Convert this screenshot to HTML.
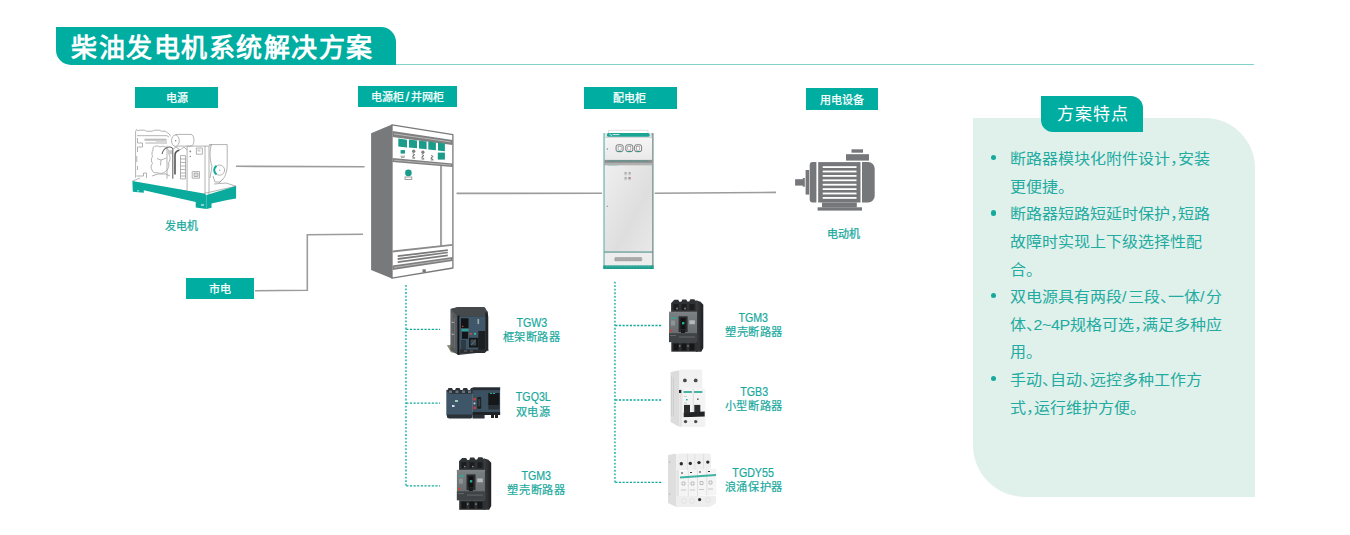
<!DOCTYPE html>
<html lang="zh-CN"><head><meta charset="utf-8">
<style>
html,body{margin:0;padding:0;background:#fff;}
body{width:1350px;height:535px;position:relative;overflow:hidden;font-family:"Liberation Sans",sans-serif;}
.a{position:absolute;}
.banner{left:56px;top:27px;width:340px;height:38px;background:#00ada1;border-radius:0 15px 0 15px;}
.banner span{position:absolute;left:15px;top:3.5px;font-size:26px;letter-spacing:1.5px;line-height:34px;font-weight:700;color:#fff;white-space:nowrap;}
.hline{left:396px;top:63.8px;width:858px;height:1.5px;background:#80d4ca;}
.lab{position:absolute;background:#00ada1;color:#fff;font-size:11px;-webkit-text-stroke:0.25px #fff;text-align:center;white-space:nowrap;}
.tl{position:absolute;color:#17a99d;font-size:11px;white-space:nowrap;-webkit-text-stroke:0.25px #17a99d;}
.pt{position:absolute;width:100px;text-align:center;color:#17a99d;font-size:12.4px;line-height:13px;white-space:nowrap;-webkit-text-stroke:0.2px #17a99d;}
.pt span{display:inline-block;transform:scaleX(0.86);}
.pc{position:absolute;width:100px;text-align:center;color:#17a99d;font-size:11.2px;letter-spacing:0.55px;line-height:13px;white-space:nowrap;-webkit-text-stroke:0.2px #17a99d;}
.panel{left:973px;top:118px;width:282px;height:379px;background:#e0f0eb;border-radius:0 50px 0 52px;}
.tab{left:1041px;top:96px;width:102px;height:36px;background:#00ada1;border-radius:0 12px 0 12px;color:#fff;font-size:18px;}
.tab span{position:absolute;left:15.5px;top:8px;line-height:22px;font-size:17px;letter-spacing:1.3px;white-space:nowrap;}
.ul{left:1009.5px;top:145.2px;width:260px;white-space:nowrap;color:#22aba0;font-size:16px;line-height:27.6px;}
.ln{position:relative;height:27.6px;}
.ln .t{display:inline-block;transform:scaleY(0.92);transform-origin:50% 50%;}
.ln.b:before{content:"";position:absolute;left:-19px;top:9.7px;width:5.5px;height:5.5px;border-radius:50%;background:#13a99c;}
.h{letter-spacing:-8px;}
.s{letter-spacing:1.3px;margin-left:0.4px;}
</style></head>
<body>
<div class="a banner"><span>柴油发电机系统解决方案</span></div>
<div class="a hline"></div>

<div class="lab" style="left:135px;top:86.5px;width:83px;height:21.5px;line-height:23.5px;">电源</div>
<div class="lab" style="left:358px;top:86px;width:99px;height:21px;line-height:23px;">电源柜<span style="font-size:12.5px;margin:0 1.6px;-webkit-text-stroke:0.35px #fff;">/</span>并网柜</div>
<div class="lab" style="left:584px;top:86.5px;width:93px;height:22.5px;line-height:22.5px;text-indent:-2px;">配电柜</div>
<div class="lab" style="left:806px;top:88px;width:72px;height:22px;line-height:24px;">用电设备</div>
<div class="lab" style="left:186px;top:278px;width:68px;height:21px;line-height:23.5px;">市电</div>

<div class="tl" style="left:165px;top:218.5px;line-height:14px;">发电机</div>
<div class="tl" style="left:827px;top:226.5px;line-height:14px;">电动机</div>

<!-- connection lines -->
<svg class="a" style="left:0;top:0" width="1350" height="535">
  <g stroke="#9c9c9c" stroke-width="1.6" fill="none">
    <path d="M236 166.3 L364.6 166.7"/>
    <path d="M255 290.8 L307.3 290.2 L307.3 234.8 L363 234.3"/>
    <path d="M456.5 193.4 L602 193.2"/>
    <path d="M654.6 193.2 L776 192.4"/>
  </g>
  <g stroke="#4fc3b7" stroke-width="2" fill="none" stroke-dasharray="1.8 1.75">
    <path d="M405.9 285 V486.5"/>
    <path d="M614.9 281.7 V483"/>
  </g>
  <g stroke="#13a898" stroke-width="1.3" fill="none" stroke-dasharray="2.2 1.45">
    <path d="M406.2 329.3 H440"/>
    <path d="M406.2 403.2 H440"/>
    <path d="M406.2 485.8 H440"/>
    <path d="M615.2 325.5 H662"/>
    <path d="M615.2 400 H662"/>
    <path d="M615.2 482.3 H662"/>
  </g>
</svg>


<!--CABGEN--><svg class="a" style="left:0;top:0" width="1350" height="535">
<g id="cab1">
<polygon points="371.1,133.3 392,124.4 392,278.5 371.1,270.1" fill="#78797b"/>
<polygon points="392.0,124.9 452.9,134.7 452.9,268.0 392.0,278.2" fill="#fff" stroke="#78797b" stroke-width="1.3" stroke-linejoin="round"/>
<polygon points="392.5,131.1 452.5,140.0 452.5,145.0 392.5,136.9" fill="#7f7f7f"/>
<polyline points="394.0,133.9 451.0,142.0" stroke="#d0d0d0" stroke-width="0.7" fill="none"/>
<polygon points="398.3,138.6 407.0,139.8 407.0,147.4 398.3,146.4" fill="#1b9c8a"/>
<polygon points="409.0,139.4 417.0,140.5 417.0,148.3 409.0,147.4" fill="#1b9c8a"/>
<polygon points="419.0,140.6 426.6,141.6 426.6,149.3 419.0,148.4" fill="#1b9c8a"/>
<polygon points="428.3,141.6 435.9,142.6 435.9,150.3 428.3,149.4" fill="#1b9c8a"/>
<polygon points="438.0,142.6 444.9,143.5 444.9,151.2 438.0,150.4" fill="#1b9c8a"/>
<rect x="437.8" y="152.6" width="7.1" height="7" fill="#1b9c8a"/>
<rect x="400.6" y="150.1" width="4.4" height="3.5" fill="#1b9c8a"/>
<path d="M400.5 156.2 h4.5 M401 157.6 h3.5" stroke="#888" stroke-width="0.8"/>
<circle cx="413.7" cy="151.3" r="1.3" fill="#8a8a8a" stroke="#666" stroke-width="0.7"/>
<path d="M412.6 153.7 l2.2 1 l-2.4 1.6 l2.2 1.4 M412.3 158.1 h2.8" stroke="#666" stroke-width="0.9" fill="none"/>
<circle cx="422.9" cy="152.2" r="1.3" fill="#8a8a8a" stroke="#666" stroke-width="0.7"/>
<path d="M421.8 154.6 l2.2 1 l-2.4 1.6 l2.2 1.4 M421.5 159.0 h2.8" stroke="#666" stroke-width="0.9" fill="none"/>
<path d="M431.0 155.5 l2.2 1 l-2.4 1.6 l2.2 1.4 M430.7 159.9 h2.8" stroke="#666" stroke-width="0.9" fill="none"/>
<polygon points="392.5,158.0 452.5,163.5 452.5,166.9 392.5,162.0" fill="#7f7f7f"/>
<polyline points="394.0,160.2 451.0,165.1" stroke="#d5d5d5" stroke-width="0.6" fill="none"/>
<path d="M440.5 165.8 V246.0 M441.6 165.9 V245.9" stroke="#888" stroke-width="0.8"/>
<circle cx="408.4" cy="172.9" r="3.3" fill="#1b9c8a"/>
<rect x="405" y="177" width="6.8" height="2.4" fill="none" stroke="#888" stroke-width="0.8"/>
<polygon points="392.5,250.5 452.5,244.0 452.5,245.8 392.5,252.5" fill="#8b8b8b"/>
<polygon points="397.7,255.2 447.8,249.2 447.8,250.9 397.7,257.1" fill="#7a7a7a"/>
<polygon points="397.7,258.0 447.8,251.7 447.8,253.3 397.7,259.9" fill="#7a7a7a"/>
<polygon points="397.7,261.2 447.8,254.6 447.8,256.2 397.7,263.1" fill="#7a7a7a"/>
<polygon points="392.5,265.5 452.5,257.1 452.5,261.1 392.5,270.1" fill="#7f7f7f"/>
<polyline points="394.0,267.5 451.0,259.2" stroke="#d5d5d5" stroke-width="0.6" fill="none"/>
<rect x="422.5" y="269.3" width="3.3" height="2.9" fill="#777"/>
</g>
<g id="gen" fill="none" stroke="#9a9a9a" stroke-width="0.75" stroke-linejoin="round">
<path d="M135.6 177.7 V131.5 l1 -2 l1.2 1.2 l1.5 -0.5 h5 l2 1 h6 l2 -1 h5 l2 1 h4 l2 1.5 l1.8 1.2 l1.6 2.5"/>
<path d="M137 135.7 h30 l2 1.5 M144.5 139.2 h22 M144.5 140.2 h22 M145.5 143 h21.5 M137.5 138 v5 h5 v4 h-5 v5"/>
<rect x="155.8" y="140.7" width="11.2" height="2.8" fill="#d8d8d8" stroke="none"/>
<path d="M136.8 156 v6 M137.5 166 v4 M136.5 176 h7 v-3 h3 v5 M152 176 l6 -2 l8 0 l4 2"/>
<path d="M153 147.5 c2 -2 5 -2 7 -0.5 c2 -1 5 -1 6.5 1 c2 1.5 3 4 2.5 6.5 c1.5 2.5 1.5 6 -0.5 8.5 c1 3 0 6 -2.5 8 c-2 2.5 -6 3 -8.5 1.5 c-2.5 1 -5 0 -5.5 -2.5 c-1.5 -2.5 -1 -5 0.5 -6.5 c-1.5 -2 -1.5 -5 0 -7 c-1 -2 -0.5 -5 0.5 -6.5 z" fill="#fff"/>
<path d="M161 160 l5.5 -2 M161 160 l-0.5 5.5 M161 160 l-4 -1.5"/>
<rect x="168.2" y="150.2" width="4.3" height="4" fill="#c9c9c9" stroke="none"/>
<path d="M162 154 c1 -4 3.5 -6.5 7 -7 c2.5 -0.3 3.8 1 3.8 3 V178.8" stroke="#6a6a6a" stroke-width="1.1"/>
<path d="M179.3 150.2 c-2.5 0.5 -4.3 2.5 -4.3 5 V174.4" stroke="#555" stroke-width="1.6"/>
<path d="M167 145.7 V178.8"/>
<path d="M175.4 134.4 H191 a3 5.85 0 0 1 0 11.7 H175.4" fill="#fff"/>
<ellipse cx="175.4" cy="140.7" rx="3.9" ry="5.6" fill="#fff"/>
<circle cx="175.6" cy="140.7" r="0.7" fill="#888" stroke="none"/>
<path d="M180.5 155.6 h5 v23.3 h-5 z M180.5 159 h5 M180.5 162.5 h5 M180.5 166 h5 M180.5 169.5 h5 M180.5 173 h5 M180.5 176 h5"/>
<path d="M172 150 l4 -3 l4 3 l4 -3 l3 3"/>
<path d="M187.1 146.1 H209 V195 M187.1 146.1 V190.6 M209 146.1 l2.5 -1.5 M205 146.1 V194"/>
<rect x="196.4" y="148" width="6" height="6.2"/><rect x="197.5" y="149.5" width="3" height="2" fill="#ccc" stroke="none"/><circle cx="190.3" cy="151.4" r="0.9" fill="#888" stroke="none"/><circle cx="190.3" cy="156.5" r="0.7" fill="#888" stroke="none"/>
<rect x="192.2" y="171.6" width="7.3" height="6.6" fill="#fff"/><rect x="194" y="173" width="4" height="3.6" fill="#ddd"/>
<path d="M209 144.6 H227.2 V164.3 C227.2 172 225 178 221.4 180.4 L219 183 M211.5 144.6 C209.5 150 209.5 160 212 166 L210 178"/>
<path d="M213 176 l2 6 l5 0 l3 -3"/>
<circle cx="219.5" cy="170.1" r="5.1" fill="#fff"/><circle cx="219.8" cy="170.1" r="0.6" fill="#888" stroke="none"/>
<path d="M216.5 165.8 A5.1 5.1 0 0 0 216.5 174.4" stroke="#0aab9c" stroke-width="2"/>
<path d="M132.4 181.1 L140 178 M203.9 193.5 L236 186.2 L226 183 L214 184 M150 186 l20 4 M180 190 l15 3"/>
</g>
<g fill="#0aab9c">
<polygon points="132.4,181.1 203.9,193.5 206.6,194.9 206.6,208.9 195.7,207.5 195.7,202 143.8,190.2 143.8,192.7 132.8,191.8"/>
<polygon points="206.6,194.9 236.1,186.1 236.1,198.4 227.3,200 211.5,203.5 211.5,207.8 206.6,208.9"/>
</g>
<path d="M138 190 v1.5 M201 205 h3" stroke="#fff" stroke-width="1"/>
</svg><!--/CABGEN-->
<!--CAB2--><svg class="a" style="left:0;top:0" width="1350" height="535">
<defs>
<linearGradient id="dg" x1="0" y1="0" x2="1" y2="1"><stop offset="0" stop-color="#efefef"/><stop offset="0.6" stop-color="#dedede"/><stop offset="1" stop-color="#e8e8e8"/></linearGradient>
<linearGradient id="ug" x1="0" y1="0" x2="0" y2="1"><stop offset="0" stop-color="#f6f6f6"/><stop offset="1" stop-color="#e9e9e9"/></linearGradient>
</defs>
<path d="M608.5 134 V130.3 H648 V134" fill="none" stroke="#c9c9c9" stroke-width="0.6"/>
<rect x="603.3" y="133" width="50.3" height="136" fill="#e8e8e8"/>
<rect x="603.3" y="133" width="1.6" height="136" fill="#8fc7c0"/>
<rect x="651.6" y="133" width="2" height="136" fill="#8fa3a1"/>
<rect x="605" y="136.8" width="47" height="23.1" fill="url(#ug)"/>
<rect x="605" y="136.8" width="47" height="1" fill="#cfcfcf"/>
<rect x="606.8" y="133" width="43" height="3.8" rx="1.9" fill="#1aa595"/>
<path d="M609.5 134.2 l2.5 1.3 M612.5 134.6 h7" stroke="#e8f5f3" stroke-width="0.9"/>
<rect x="616.1" y="144.8" width="7" height="6.8" rx="1.8" fill="#f4f4f4" stroke="#5a5a5a" stroke-width="0.8"/>
<rect x="618.1" y="146.3" width="3" height="3.8" fill="#fff" stroke="#777" stroke-width="0.5"/>
<path d="M617.6 151.6 h4" stroke="#1c9b8c" stroke-width="0.8"/>
<rect x="625.8" y="144.8" width="7" height="6.8" rx="1.8" fill="#f4f4f4" stroke="#5a5a5a" stroke-width="0.8"/>
<rect x="627.8" y="146.3" width="3" height="3.8" fill="#fff" stroke="#777" stroke-width="0.5"/>
<path d="M627.3 151.6 h4" stroke="#1c9b8c" stroke-width="0.8"/>
<rect x="634.6" y="144.8" width="7" height="6.8" rx="1.8" fill="#f4f4f4" stroke="#5a5a5a" stroke-width="0.8"/>
<rect x="636.6" y="146.3" width="3" height="3.8" fill="#fff" stroke="#777" stroke-width="0.5"/>
<path d="M636.1 151.6 h4" stroke="#1c9b8c" stroke-width="0.8"/>
<rect x="606.8" y="148.4" width="1.2" height="1.3" fill="#888"/>
<rect x="604.5" y="159.9" width="48" height="5.5" fill="#8f8f8f"/>
<rect x="604.5" y="162.8" width="48" height="2.6" fill="#b0b0b0"/>
<path d="M609 161 H649" stroke="#1a9b8b" stroke-width="0.8" stroke-dasharray="1 0.6"/>
<rect x="607.7" y="165.3" width="10" height="1.4" rx="0.7" fill="#2aa597"/>
<rect x="605" y="165.4" width="47" height="86.6" fill="url(#dg)"/>
<rect x="624.5" y="172.5" width="2.2" height="1" fill="#6a7a78"/>
<rect x="624.4" y="174.5" width="2.4" height="0.6" fill="#aaa"/>
<rect x="628.5" y="172.5" width="2.2" height="1" fill="#6a7a78"/>
<rect x="628.4" y="174.5" width="2.4" height="0.6" fill="#aaa"/>
<rect x="624.5" y="177.5" width="2.2" height="1" fill="#6a7a78"/>
<rect x="624.4" y="179.5" width="2.4" height="0.6" fill="#aaa"/>
<rect x="628.5" y="177.5" width="2.2" height="1" fill="#6a7a78"/>
<rect x="628.4" y="179.5" width="2.4" height="0.6" fill="#aaa"/>
<rect x="628.5" y="177.5" width="2.2" height="1" fill="#b07060"/>
<rect x="606.8" y="205.6" width="1.1" height="1.4" fill="#999"/>
<rect x="604.5" y="251.6" width="48" height="1.1" fill="#2c7e75"/>
<rect x="605" y="252.7" width="47" height="12.7" fill="#ededed"/>
<rect x="614.3" y="257" width="28" height="4.3" rx="1.5" fill="#b4b4b4"/>
<path d="M615 258.2 H641.5 M615 259.4 H641.5 M615 260.5 H641.5" stroke="#8e8e8e" stroke-width="0.5" stroke-dasharray="0.9 0.5"/>
<rect x="603.3" y="265.4" width="50.3" height="3.6" fill="#1f9f90"/>
<path d="M606 266.8 H651" stroke="#7bc9bf" stroke-width="0.6" stroke-dasharray="0.8 0.7"/>
</svg><!--/CAB2-->
<!--PROD--><svg class="a" style="left:0;top:0" width="1350" height="535">
<defs>
<linearGradient id="mccbR" x1="0" y1="0" x2="1" y2="0"><stop offset="0" stop-color="#3c3f42"/><stop offset="1" stop-color="#1d1f21"/></linearGradient>
<linearGradient id="mccbF" x1="0" y1="0" x2="0" y2="1"><stop offset="0" stop-color="#7a7f82"/><stop offset="1" stop-color="#62676a"/></linearGradient>
<g id="mccb">
 <rect x="671.3" y="303" width="26.4" height="9" fill="#3a3d40"/>
 <path d="M671.3 303 l3 -3.2 h4 l1 2 h2 l1 -2.3 h4 l1 2 h2 l1 -2.3 h4 l2 2.3 V312 H671.3 Z" fill="#2f3234"/>
 <rect x="673.5" y="304" width="5" height="6" fill="#1c1d1f"/><rect x="681.5" y="304" width="5" height="6" fill="#1c1d1f"/><rect x="689.5" y="304" width="5" height="6" fill="#1c1d1f"/>
 <circle cx="677" cy="308.5" r="0.9" fill="#888"/><circle cx="685" cy="308.5" r="0.9" fill="#888"/>
 <path d="M696 300.2 l4.5 1.5 l2.8 3 V348 l-2 3.7 H696 Z" fill="url(#mccbR)"/>
 <rect x="669" y="311.8" width="28" height="30.3" fill="url(#mccbF)"/>
 <rect x="669" y="311.8" width="28" height="1.8" fill="#7d8285"/>
 <rect x="678.6" y="316.3" width="9" height="15.7" fill="#2a2c2e"/>
 <rect x="680.5" y="318" width="5" height="11" fill="#121314"/>
 <rect x="682" y="322" width="2.4" height="2.4" fill="#2aa898"/>
 <rect x="681" y="329.5" width="4" height="3.5" fill="#1a1b1c"/>
 <rect x="689.3" y="320.3" width="5.6" height="3.9" fill="#b7babc"/>
 <rect x="670.7" y="317.4" width="5.6" height="1.5" fill="#3aa596"/>
 <rect x="671" y="320.5" width="4" height="5" fill="#8e9396"/>
 <rect x="670.2" y="329.8" width="2.2" height="2.2" fill="#c8453e"/>
 <rect x="669" y="333.2" width="28" height="8.9" fill="#3f4346"/>
 <path d="M670 335.5 h6 M679 337 h16" stroke="#777" stroke-width="0.7"/>
 <rect x="671.3" y="342.1" width="26.4" height="9.6" fill="#2e3133"/>
 <rect x="673.5" y="343.5" width="5" height="7" fill="#151617"/><rect x="681.5" y="343.5" width="5" height="7" fill="#151617"/><rect x="689.5" y="343.5" width="5" height="7" fill="#151617"/>
 <circle cx="679.8" cy="346" r="0.8" fill="#999"/><circle cx="688" cy="346" r="0.8" fill="#999"/>
</g>
</defs>
<use href="#mccb"/>
<use href="#mccb" transform="translate(-212.1 158.1)"/>
<g>
 <path d="M446.9 345.3 l9 -1 v9 l-5 -1 z" fill="#8d8c78"/>
 <path d="M478 349 l9 -2 l2 4 l-9 1 z" fill="#9a998a"/>
 <path d="M450.7 309 L458 306.9 H484 L486 309 V352 L458.3 355.1 L450.7 350 Z" fill="#3d4144"/>
 <path d="M450.7 309 L457.5 315.5 V354.5 L450.7 350 Z" fill="#565a5d"/>
 <path d="M452 313 v34 M454.5 318 v30" stroke="#777b7d" stroke-width="0.6"/>
 <path d="M451.5 322 l2.5 0.5 M451.5 334 l2.5 0.5" stroke="#bbb" stroke-width="0.9"/>
 <path d="M450.7 309 L458 306.9 H484 L488 312 V316 H457.5 Z" fill="#45494c"/>
 <rect x="457.5" y="315.5" width="2" height="39" fill="#141618"/>
 <path d="M485.3 312 C487.5 313 488.5 315 488.3 318 V350 l-3 2" fill="#222528"/>
 <rect x="459.5" y="316.6" width="25.8" height="36.3" fill="#40576a"/>
 <rect x="478.3" y="331" width="7" height="21" fill="#1c1f22"/>
 <rect x="461" y="318.3" width="7.5" height="9.7" fill="#111315"/>
 <rect x="461.5" y="329" width="7" height="2.3" fill="#2aa592"/>
 <rect x="462" y="331.8" width="6" height="7" fill="#121416"/>
 <rect x="462" y="325.8" width="1.4" height="1.2" fill="#d4453e"/>
 <rect x="469.5" y="333" width="2.4" height="1.6" fill="#d4453e"/>
 <rect x="474" y="332.8" width="2" height="2" fill="#2eb59e"/>
 <rect x="469" y="337.8" width="9.3" height="9.7" fill="#15181a"/>
 <path d="M470.5 339.5 h5.5 v6 h-5.5 z" fill="#3b4a53"/>
 <path d="M471 345 l5 -5" stroke="#6a7a80" stroke-width="0.6"/>
 <rect x="477.5" y="319" width="1.6" height="5" fill="#9aa"/>
 <rect x="461" y="340" width="5" height="10" fill="#2d3b44"/>
 <rect x="460" y="349.5" width="25" height="3.5" fill="#2a2e31"/>
 <path d="M464 351 h3 M470 351 h3" stroke="#777" stroke-width="0.8"/>
</g>
<g>
 <rect x="446.3" y="390" width="26.5" height="25.5" fill="#3f5668"/>
 <path d="M447 391 l1.5 -3 h3.5 l1 2 h2 l1 -2 h3.5 l1 2 h2 l1 -2 h3.5 l1 2 h2 l1 -2 h3 l1.5 3 v2.8 h-26 z" fill="#2b3136"/>
 <rect x="449" y="390.5" width="3" height="2.5" fill="#66727a"/><rect x="455.5" y="390.5" width="3" height="2.5" fill="#66727a"/><rect x="462" y="390.5" width="3" height="2.5" fill="#66727a"/><rect x="468" y="390.5" width="3" height="2.5" fill="#66727a"/>
 <path d="M447 414.5 h25.5 v3 l-1.5 1 h-22 l-2 -1 z" fill="#2b3136"/>
 <rect x="455" y="400" width="3" height="2" fill="#9cb"/><rect x="452" y="405" width="2.5" height="2" fill="#dde"/>
 <rect x="472.6" y="387.5" width="27.5" height="27.5" fill="#3b5060"/>
 <rect x="472.6" y="387.5" width="27.5" height="2.6" fill="#262c31"/>
 <rect x="488.3" y="393" width="11" height="12.5" fill="#151719"/>
 <rect x="488.3" y="405.5" width="11" height="4" fill="#2a3136"/>
 <rect x="490" y="393" width="2" height="0.9" fill="#2fc0a0"/><rect x="493" y="393" width="2" height="0.9" fill="#2fc0a0"/>
 <rect x="473.4" y="398" width="2.4" height="2.4" fill="#d03c3c"/>
 <rect x="473.4" y="406.7" width="2.4" height="2.4" fill="#d03c3c"/>
 <rect x="473.6" y="402.5" width="1.8" height="1.8" fill="#ccd"/>
 <rect x="477.3" y="396.9" width="3.9" height="11.8" rx="1" fill="#1b1e21"/>
 <rect x="478.2" y="399" width="2" height="7.5" fill="#3a4046"/>
 <rect x="472.6" y="412" width="27.5" height="3" fill="#1f2327"/>
 <rect x="472.6" y="415" width="12" height="3.5" fill="#2a3035"/>
 <rect x="491" y="415" width="3" height="3" fill="#222"/><rect x="495" y="415" width="3" height="3" fill="#222"/>
</g>
<g>
 <path d="M670.6 372 L679.5 370.2 V427 L670.6 422 Z" fill="#dcdcdc"/>
 <path d="M671.5 376 v40 M673.5 378 v38" stroke="#c4c4c4" stroke-width="0.6"/>
 <rect x="679.5" y="370.2" width="22.8" height="18.5" fill="#f1f1f1"/>
 <path d="M679.5 370.2 l2 -0.5 h20 l0.8 0.5" fill="#e6e6e6"/>
 <rect x="682.5" y="388.7" width="22.8" height="28.7" fill="#f4f4f4"/>
 <rect x="679.5" y="388.7" width="3" height="38" fill="#e2e2e2"/>
 <rect x="692.8" y="388.7" width="0.7" height="28" fill="#cfcfcf"/>
 <circle cx="684.9" cy="380.4" r="1.9" fill="#4a4a4a"/><circle cx="695.7" cy="380.4" r="1.9" fill="#4a4a4a"/>
 <rect x="683.5" y="391.1" width="8.4" height="1.8" fill="#36ad9c"/><rect x="694" y="391.1" width="8.4" height="1.8" fill="#36ad9c"/>
 <rect x="679" y="390" width="2.3" height="3" fill="#222"/>
 <rect x="686" y="399" width="1.6" height="1.4" fill="#2a9"/><rect x="697" y="398.5" width="1.6" height="1.4" fill="#555"/>
 <path d="M684 396.5 h3 M684 403 h3" stroke="#aaa" stroke-width="0.5"/>
 <rect x="684" y="404.9" width="6" height="8" fill="#2a2c2e"/><rect x="694.3" y="404.9" width="6" height="8" fill="#2a2c2e"/>
 <path d="M683.7 412.6 L704.7 411.6 V416.4 L683.7 417.2 Z" fill="#222426"/>
 <rect x="682.5" y="417.4" width="22.8" height="9.6" fill="#f2f2f2"/>
 <circle cx="685.5" cy="421.6" r="1.7" fill="#4c4c4c"/><circle cx="695.7" cy="421.6" r="1.7" fill="#4c4c4c"/>
</g>
<g>
 <path d="M668 455 L676.3 453.4 V507.1 L668 503 Z" fill="#dedede"/>
 <path d="M669 462 l1.2 0.2 M669 494 l1.2 0.2" stroke="#999" stroke-width="0.8"/>
 <path d="M676.3 455 L679 453.4 H709 L711 455 V470.1 H676.3 Z" fill="#efefef"/>
 <path d="M687.5 454 v16 M694.8 454 v16 M703.5 454 v16" stroke="#d6d6d6" stroke-width="0.6"/>
 <circle cx="681.3" cy="463.8" r="1.7" fill="#2b2b2b"/><circle cx="690.3" cy="463.4" r="1.7" fill="#2b2b2b"/><circle cx="699" cy="462.6" r="1.7" fill="#2b2b2b"/><circle cx="707.8" cy="462.1" r="1.7" fill="#2b2b2b"/>
 <rect x="676.3" y="470.1" width="3" height="37" fill="#e4e4e4"/>
 <path d="M679.3 470.7 L716.4 468.5 V495 L679.3 496 Z" fill="#f5f5f5"/>
 <path d="M688.3 470.5 v25.5 M697.5 470 v26 M706.8 469.5 v26" stroke="#d0d0d0" stroke-width="0.6"/>
 <path d="M680 476.5 L716 474 V476 L680 478.5 Z" fill="#3cb3a3"/>
 <rect x="681" y="472.5" width="2" height="1" fill="#333"/><rect x="690" y="472" width="2" height="1" fill="#333"/><rect x="699" y="471.5" width="2" height="1" fill="#333"/><rect x="708" y="471" width="2" height="1" fill="#333"/>
 <path d="M682 482 h3 v3 h-3z M691 482 h3 v3 h-3z M700 481.5 h3 v3 h-3z M709 481 h3 v3 h-3z" fill="none" stroke="#888" stroke-width="0.5"/>
 <path d="M681 490 h5 M690 490 h5 M699 489.5 h5 M708 489 h5" stroke="#aaa" stroke-width="0.6"/>
 <path d="M676.3 495.8 H716 V503 L710 507.1 H676.3 Z" fill="#eeeeee"/>
 <circle cx="684" cy="501" r="2.5" fill="none" stroke="#dcdcdc" stroke-width="0.6"/><circle cx="692" cy="501" r="2.5" fill="none" stroke="#dcdcdc" stroke-width="0.6"/><circle cx="708" cy="500" r="2.5" fill="none" stroke="#dcdcdc" stroke-width="0.6"/>
 <circle cx="699.6" cy="499.6" r="1.6" fill="#2d2d2d"/>
</g>
</svg><!--/PROD-->
<!-- motor -->
<svg class="a" style="left:0;top:0" width="1350" height="535">
 <g fill="#75777a">
  <rect x="795.1" y="179.2" width="8.5" height="6.4"/>
  <rect x="802.8" y="178" width="2" height="8.7"/>
  <rect x="805.6" y="170" width="3.6" height="24.6"/>
  <path d="M812.7 162.1 H816.4 V202.5 H812.7 A3 3 0 0 1 809.7 199.5 V165.1 A3 3 0 0 1 812.7 162.1 Z"/>
  <rect x="818.2" y="162.1" width="42.3" height="40.4"/>
  <path d="M862 162.1 H868.2 A6.5 6.5 0 0 1 874.7 168.6 V196 A6.5 6.5 0 0 1 868.2 202.5 H862 Z"/>
  <rect x="846" y="154.2" width="23" height="6.4"/>
  <rect x="851.5" y="149.3" width="11.5" height="3.4"/>
  <rect x="822" y="202.5" width="34.8" height="4.9"/>
  <rect x="817.6" y="207.3" width="44.4" height="3.3"/>
 </g>
 <g fill="#ffffff">
  <rect x="822.7" y="166.2" width="33.8" height="1.8"/>
  <rect x="822.7" y="170.6" width="33.8" height="1.8"/>
  <rect x="822.7" y="175" width="33.8" height="1.8"/>
  <rect x="822.7" y="179.4" width="33.8" height="1.8"/>
  <rect x="822.7" y="183.8" width="33.8" height="1.8"/>
  <rect x="822.7" y="188.2" width="33.8" height="1.8"/>
  <rect x="822.7" y="192.6" width="33.8" height="1.8"/>
  <rect x="822.7" y="197" width="33.8" height="1.8"/>
 </g>
</svg>

<div class="pt" style="left:481.80px;top:316.60px;"><span>TGW3</span></div>
<div class="pc" style="left:481.65px;top:330.60px;">框架断路器</div>
<div class="pt" style="left:482.90px;top:391.40px;"><span>TGQ3L</span></div>
<div class="pc" style="left:483.00px;top:405.60px;">双电源</div>
<div class="pt" style="left:486.35px;top:469.90px;"><span>TGM3</span></div>
<div class="pc" style="left:486.30px;top:483.60px;">塑壳断路器</div>
<div class="pt" style="left:703.60px;top:312.10px;"><span>TGM3</span></div>
<div class="pc" style="left:703.90px;top:326.10px;">塑壳断路器</div>
<div class="pt" style="left:703.80px;top:386.20px;"><span>TGB3</span></div>
<div class="pc" style="left:703.75px;top:399.90px;">小型断路器</div>
<div class="pt" style="left:703.60px;top:467.20px;"><span>TGDY55</span></div>
<div class="pc" style="left:703.75px;top:481.10px;">浪涌保护器</div>
<div class="a panel"></div>
<div class="a tab"><span>方案特点</span></div>
<div class="a ul">
<div class="ln b"><span class="t">断路器模块化附件设计<span class="h">，</span>安装</span></div>
<div class="ln"><span class="t">更便捷。</span></div>
<div class="ln b"><span class="t">断路器短路短延时保护<span class="h">，</span>短路</span></div>
<div class="ln"><span class="t">故障时实现上下级选择性配</span></div>
<div class="ln"><span class="t">合。</span></div>
<div class="ln b"><span class="t">双电源具有两段<span class="s">/</span>三段<span class="h">、</span>一体<span class="s">/</span>分</span></div>
<div class="ln"><span class="t">体<span class="h">、</span><span style="letter-spacing:-0.4px">2~4P</span>规格可选<span class="h">，</span>满足多种应</span></div>
<div class="ln"><span class="t">用。</span></div>
<div class="ln b"><span class="t">手动<span class="h">、</span>自动<span class="h">、</span>远控多种工作方</span></div>
<div class="ln"><span class="t">式<span class="h">，</span>运行维护方便。</span></div>
</div>
</body></html>
